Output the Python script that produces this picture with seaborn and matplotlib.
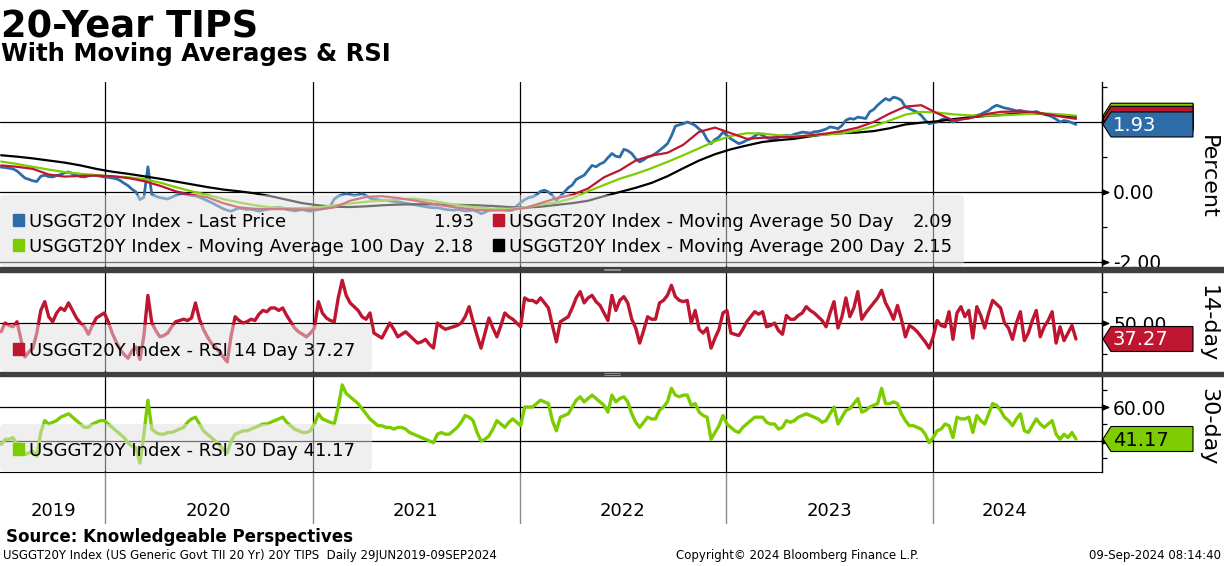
import numpy as np
import pandas as pd
import matplotlib
matplotlib.use("Agg")
import matplotlib.pyplot as plt
import matplotlib.dates as mdates
from matplotlib.ticker import FuncFormatter
from matplotlib.patches import Polygon, Rectangle, FancyBboxPatch
import seaborn as sns

# weekly closes, 01JUL2019 - 09SEP2024
dates = pd.date_range("2019-07-01", periods=272, freq="7D")
last_price = [
    0.71, 0.70, 0.68, 0.66, 0.60, 0.50, 0.40, 0.36, 0.32, 0.30,
    0.45, 0.48, 0.44, 0.43, 0.47, 0.50, 0.55, 0.57, 0.52, 0.48,
    0.44, 0.43, 0.46, 0.48, 0.47, 0.45, 0.43, 0.42, 0.40, 0.38,
    0.33, 0.25, 0.18, 0.08, 0.00, -0.22, -0.15, 0.72, -0.08, -0.12,
    -0.16, -0.18, -0.20, -0.15, -0.10, -0.06, -0.05, -0.08, -0.10, -0.11,
    -0.15, -0.20, -0.25, -0.30, -0.36, -0.42, -0.48, -0.52, -0.55, -0.50,
    -0.46, -0.48, -0.50, -0.49, -0.52, -0.55, -0.52, -0.50, -0.47, -0.45,
    -0.44, -0.46, -0.50, -0.52, -0.54, -0.52, -0.50, -0.53, -0.55, -0.52,
    -0.50, -0.48, -0.46, -0.40, -0.20, -0.12, -0.08, -0.05, -0.07, -0.10,
    -0.08, -0.05, -0.10, -0.18, -0.20, -0.22, -0.24, -0.23, -0.25, -0.27,
    -0.28, -0.30, -0.32, -0.34, -0.36, -0.38, -0.40, -0.42, -0.44, -0.45,
    -0.45, -0.47, -0.50, -0.51, -0.52, -0.50, -0.52, -0.54, -0.53, -0.52,
    -0.56, -0.62, -0.58, -0.52, -0.50, -0.48, -0.50, -0.52, -0.53, -0.52,
    -0.40, -0.30, -0.22, -0.16, -0.14, -0.08, 0.02, 0.05, 0.00, -0.10,
    -0.24, -0.12, 0.00, 0.12, 0.20, 0.36, 0.42, 0.48, 0.62, 0.76,
    0.72, 0.80, 0.85, 0.98, 1.10, 1.02, 1.00, 1.22, 1.18, 1.10,
    0.95, 0.86, 0.92, 1.00, 1.03, 1.10, 1.19, 1.28, 1.38, 1.60,
    1.88, 1.92, 1.95, 2.00, 1.96, 1.90, 1.80, 1.71, 1.50, 1.38,
    1.50, 1.57, 1.71, 1.62, 1.52, 1.45, 1.38, 1.42, 1.48, 1.52,
    1.60, 1.67, 1.62, 1.55, 1.52, 1.52, 1.56, 1.60, 1.62, 1.60,
    1.65, 1.68, 1.71, 1.70, 1.68, 1.72, 1.73, 1.76, 1.80, 1.86,
    1.84, 1.81, 1.90, 2.05, 2.10, 2.08, 2.14, 2.12, 2.10, 2.29,
    2.36, 2.48, 2.58, 2.67, 2.62, 2.71, 2.68, 2.62, 2.43, 2.38,
    2.33, 2.28, 2.19, 2.05, 1.95, 1.98, 2.00, 2.06, 2.10, 2.05,
    2.00, 2.04, 2.08, 2.10, 2.12, 2.15, 2.19, 2.22, 2.28, 2.33,
    2.42, 2.48, 2.44, 2.40, 2.38, 2.35, 2.32, 2.33, 2.30, 2.28,
    2.27, 2.30, 2.25, 2.22, 2.19, 2.15, 2.08, 2.00, 2.04, 2.02,
    1.98, 1.93]

# moving averages read every 4 weeks
ma_dates = pd.date_range("2019-07-01", periods=68, freq="28D").append(pd.DatetimeIndex(["2024-09-09"]))
ma_50 = [
    0.76, 0.72, 0.66, 0.50, 0.44, 0.46, 0.47, 0.45, 0.40, 0.31,
    0.18, 0.02, -0.08, -0.15, -0.32, -0.44, -0.48, -0.49, -0.49, -0.50,
    -0.50, -0.44, -0.25, -0.14, -0.12, -0.17, -0.24, -0.32, -0.40, -0.46,
    -0.51, -0.53, -0.52, -0.46, -0.32, -0.18, -0.08, 0.10, 0.42, 0.62,
    0.90, 1.04, 1.12, 1.35, 1.72, 1.84, 1.68, 1.52, 1.55, 1.57,
    1.57, 1.62, 1.67, 1.74, 1.84, 2.00, 2.24, 2.44, 2.48, 2.25,
    2.05, 2.10, 2.22, 2.29, 2.30, 2.29, 2.22, 2.14, 2.09]
ma_100 = [
    0.87, 0.80, 0.72, 0.64, 0.57, 0.52, 0.48, 0.45, 0.42, 0.37,
    0.27, 0.14, 0.02, -0.08, -0.20, -0.30, -0.38, -0.44, -0.46, -0.46,
    -0.44, -0.38, -0.33, -0.28, -0.24, -0.21, -0.19, -0.24, -0.32, -0.39,
    -0.44, -0.48, -0.48, -0.45, -0.36, -0.30, -0.18, 0.02, 0.20, 0.38,
    0.52, 0.68, 0.86, 1.05, 1.25, 1.45, 1.60, 1.68, 1.67, 1.62,
    1.60, 1.61, 1.64, 1.68, 1.76, 1.88, 2.04, 2.21, 2.29, 2.27,
    2.22, 2.19, 2.18, 2.19, 2.21, 2.24, 2.24, 2.21, 2.18]
ma_200 = [
    1.05, 1.01, 0.96, 0.90, 0.84, 0.76, 0.66, 0.58, 0.52, 0.45,
    0.38, 0.30, 0.22, 0.14, 0.07, 0.02, -0.04, -0.12, -0.22, -0.32,
    -0.38, -0.42, -0.43, -0.41, -0.38, -0.36, -0.35, -0.35, -0.36, -0.37,
    -0.38, -0.40, -0.43, -0.45, -0.42, -0.37, -0.32, -0.25, -0.12, 0.00,
    0.12, 0.26, 0.45, 0.68, 0.90, 1.08, 1.22, 1.33, 1.43, 1.48,
    1.52, 1.59, 1.65, 1.68, 1.70, 1.74, 1.82, 1.93, 1.98, 2.02,
    2.08, 2.13, 2.17, 2.20, 2.24, 2.25, 2.22, 2.17, 2.15]

rsi_14 = [
    43, 50, 48, 47, 51, 37, 23, 27, 30, 42,
    60, 67, 55, 51, 58, 62, 60, 66, 60, 54,
    50, 47, 41, 48, 54, 56, 58, 51, 42, 35,
    29, 25, 22, 28, 31, 21, 40, 72, 50, 44,
    39, 40, 42, 47, 51, 52, 53, 52, 54, 66,
    53, 45, 39, 34, 31, 27, 23, 19, 40, 55,
    52, 50, 51, 53, 52, 57, 60, 59, 62, 62,
    60, 62, 56, 51, 46, 43, 41, 39, 42, 46,
    67, 58, 54, 52, 51, 70, 84, 72, 66, 63,
    60, 55, 53, 58, 42, 40, 38, 44, 50, 45,
    39, 41, 43, 40, 37, 34, 35, 37, 33, 30,
    50, 47, 45, 46, 47, 48, 50, 55, 63, 51,
    40, 30, 42, 54, 46, 39, 48, 58, 55, 53,
    50, 47, 70, 68, 68, 66, 70, 66, 62, 48,
    35, 51, 53, 55, 62, 70, 75, 66, 70, 72,
    67, 64, 58, 52, 72, 60, 68, 71, 66, 53,
    46, 34, 44, 55, 53, 53, 66, 68, 72, 80,
    71, 68, 67, 68, 50, 60, 45, 42, 46, 30,
    38, 45, 58, 60, 42, 41, 40, 45, 51, 55,
    59, 57, 59, 47, 48, 50, 44, 41, 56, 53,
    53, 56, 58, 63, 60, 58, 55, 52, 47, 58,
    67, 46, 55, 70, 55, 62, 75, 53, 58, 62,
    66, 70, 76, 66, 60, 53, 64, 53, 39, 48,
    46, 43, 39, 35, 30, 39, 52, 48, 47, 59,
    37, 58, 63, 55, 60, 38, 63, 56, 46, 58,
    68, 65, 62, 50, 46, 37, 50, 59, 36, 42,
    52, 60, 39, 47, 52, 59, 34, 47, 36, 42,
    48, 37.27]

rsi_30 = [
    38, 41, 41, 42, 38, 36, 32, 33, 34, 31,
    45, 52, 50, 51, 52, 54, 55, 56, 54, 52,
    50, 48, 48, 50, 51, 52, 52, 50, 48, 46,
    44, 42, 39, 37, 36, 27, 44, 64, 47, 45,
    44, 44, 45, 45, 46, 47, 48, 51, 53, 54,
    50, 46, 44, 42, 40, 38, 35, 33, 40, 44,
    45, 46, 46, 47, 48, 49, 50, 50, 51, 52,
    53, 54, 51, 49, 47, 46, 45, 45, 46, 50,
    56, 53, 52, 51, 50, 60, 73, 68, 66, 64,
    62, 59, 56, 53, 51, 49, 49, 48, 48, 47,
    48, 48, 47, 45, 44, 43, 42, 41, 40, 39,
    44, 45, 44, 44, 46, 48, 51, 55, 54, 52,
    45, 40, 41, 43, 47, 52, 50, 48, 51, 53,
    51, 49, 60, 60, 60, 62, 64, 63, 62, 52,
    46, 54, 55, 56, 60, 64, 66, 63, 65, 67,
    65, 63, 61, 57, 67, 63, 65, 66, 63, 56,
    51, 48, 51, 54, 53, 53, 58, 60, 63, 71,
    67, 66, 67, 67, 61, 62, 57, 55, 54, 41,
    45, 49, 55, 50, 48, 46, 45, 48, 50, 52,
    54, 54, 54, 51, 50, 50, 47, 48, 52, 51,
    52, 54, 55, 56, 55, 54, 53, 51, 52, 56,
    60, 50, 54, 58, 59, 62, 65, 57, 58, 60,
    61, 62, 71, 62, 62, 63, 62, 56, 52, 49,
    49, 48, 47, 44, 39, 42, 46, 47, 50, 49,
    42, 54, 53, 53, 54, 45, 55, 52, 50, 56,
    62, 61, 58, 54, 52, 49, 53, 56, 46, 45,
    49, 53, 50, 48, 50, 52, 44, 41, 44, 42,
    45, 41.17]

years = [2019, 2020, 2021, 2022, 2023, 2024]

BLUE = "#2e6ca8"
RED = "#be1630"
GREEN = "#7dcc00"

sns.set_style("white")
plt.rcParams["font.family"] = ["DejaVu Sans"]
plt.rcParams["axes.unicode_minus"] = False
plt.rcParams["text.color"] = "black"
plt.rcParams["ytick.color"] = "black"
plt.rcParams["xtick.color"] = "black"

W, H = 1224, 566
fig = plt.figure(figsize=(W / 100, H / 100), dpi=100)


def px_axes(top, bottom, left=0, right=1102):
    return fig.add_axes([left / W, 1 - bottom / H, (right - left) / W, (bottom - top) / H])


ax1 = px_axes(82, 267)
ax2 = px_axes(272, 372)
ax3 = px_axes(376, 472)

sns.lineplot(x=dates, y=last_price, ax=ax1, color=BLUE, lw=2.0, zorder=3)
sns.lineplot(x=ma_dates, y=ma_200, ax=ax1, color="black", lw=1.6, zorder=4)
sns.lineplot(x=ma_dates, y=ma_100, ax=ax1, color=GREEN, lw=1.6, zorder=4)
sns.lineplot(x=ma_dates, y=ma_50, ax=ax1, color=RED, lw=1.6, zorder=4)
sns.lineplot(x=dates, y=rsi_14, ax=ax2, color=RED, lw=2.4, zorder=3)
sns.lineplot(x=dates, y=rsi_30, ax=ax3, color=GREEN, lw=2.4, zorder=3)

x_start = pd.Timestamp("2019-06-29")
x_end = pd.Timestamp("2024-10-25")
year_starts = [pd.Timestamp(f"{y}-01-01") for y in years[1:]]
arrow = [(0, -0.4), (1, 0), (0, 0.4), (0, -0.4)]

# (axis, y limits, gridline ticks, labelled ticks, minor ticks)
panels = [
    (ax1, (-2.143, 3.143), [-2, 0, 2], [-2, 0, 2], [-1, 1, 3]),
    (ax2, (11.0, 90.6), [50], [50], [25, 75]),
    (ax3, (21.76, 78.24), [40, 60], [60], [30, 50, 70]),
]
for ax, lims, majors, shown, minors in panels:
    ax.set_xlim(x_start, x_end)
    ax.set_ylim(*lims)
    ax.set_xlabel("")
    ax.set_ylabel("")
    ax.yaxis.tick_right()
    ax.set_yticks(majors)
    ax.set_yticks(minors, minor=True)
    ax.yaxis.set_major_formatter(FuncFormatter(lambda v, p, s=shown: f"{v:.2f}" if v in s else ""))
    ax.tick_params(axis="y", which="major", length=0, pad=8, labelsize=13.5)
    ax.tick_params(axis="y", which="minor", length=3.5, width=0.9, direction="out")
    for v in majors:
        ax.axhline(v, color="black", lw=0.9, zorder=1)
    for d in year_starts:
        ax.axvline(d, color="black", lw=0.9, zorder=1)
    ax.plot([1.0] * len(majors), majors, transform=ax.get_yaxis_transform(),
            marker=arrow, ms=9, color="black", ls="none", clip_on=False, zorder=6)
    for s in ["left", "top", "bottom"]:
        ax.spines[s].set_visible(False)
    ax.spines["right"].set_color("black")
    ax.spines["right"].set_linewidth(1.0)
    ax.tick_params(axis="x", which="both", length=0, labelbottom=False)

ax3.spines["bottom"].set_visible(True)
ax3.spines["bottom"].set_color("black")
ax3.xaxis.set_major_locator(mdates.YearLocator())
ax3.xaxis.set_minor_locator(mdates.MonthLocator(bymonth=[1, 4, 7, 10]))
ax3.tick_params(axis="x", which="minor", length=3.5, width=0.9, direction="out")

for d in year_starts:
    ax3.plot([d, d], [0, -0.53], transform=ax3.get_xaxis_transform(),
             color="#8a8a8a", lw=1, clip_on=False)
for y in years:
    a = max(pd.Timestamp(f"{y}-01-01"), dates[0])
    b = min(pd.Timestamp(f"{y}-12-31"), dates[-1])
    ax3.text(a + (b - a) / 2, -0.41, str(y), transform=ax3.get_xaxis_transform(),
             ha="center", va="center", fontsize=13)

# overlay in pixel coordinates for legends, tags and titles
ov = fig.add_axes([0, 0, 1, 1], zorder=10)
ov.set_xlim(0, W)
ov.set_ylim(H, 0)
ov.axis("off")
ov.patch.set_alpha(0)

for top in [267.3, 371.7]:
    ov.add_patch(Rectangle((0, top), W, 4.5, color="#3f3f3f"))
    ov.plot([604, 620], [top + 1.3, top + 1.3], color="#a0a0a0", lw=0.6)
    ov.plot([604, 620], [top + 2.9, top + 2.9], color="#a0a0a0", lw=0.6)


def legend_box(x, y, w, h):
    ov.add_patch(FancyBboxPatch((x, y), w, h, boxstyle="round,pad=0,rounding_size=4",
                                fc="#e0e0e0", ec="none", alpha=0.5))


def legend_entry(x, base, color, label, value=None, value_x=None):
    ov.add_patch(Rectangle((x, base - 13), 11, 11.5, color=color))
    ov.text(x + 16, base, label, fontsize=13, va="baseline", ha="left")
    if value is not None:
        ov.text(value_x, base, value, fontsize=13, va="baseline", ha="right")


legend_box(0, 195, 964, 71)
legend_entry(13, 227, BLUE, "USGGT20Y Index - Last Price", f"{last_price[-1]:.2f}", 474)
legend_entry(493, 227, RED, "USGGT20Y Index - Moving Average 50 Day", f"{ma_50[-1]:.2f}", 953)
legend_entry(13, 252, GREEN, "USGGT20Y Index - Moving Average 100 Day", f"{ma_100[-1]:.2f}", 474)
legend_entry(493, 252, "black", "USGGT20Y Index - Moving Average 200 Day", f"{ma_200[-1]:.2f}", 953)

legend_box(0, 325, 372, 46)
legend_entry(13, 356, RED, f"USGGT20Y Index - RSI 14 Day {rsi_14[-1]:.2f}")
legend_box(0, 424, 372, 47)
legend_entry(13, 456, GREEN, f"USGGT20Y Index - RSI 30 Day {rsi_30[-1]:.2f}")


def value_tag(ax, value, fc, tc=None):
    yc = H - ax.get_yaxis_transform().transform((0, value))[1]
    pts = [(1103, yc), (1111, yc - 12.5), (1193, yc - 12.5), (1193, yc + 12.5), (1111, yc + 12.5)]
    ov.add_patch(Polygon(pts, closed=True, fc=fc, ec="black", lw=0.8))
    if tc is not None:
        ov.text(1113, yc + 1, f"{value:.2f}", color=tc, fontsize=14, va="center", ha="left")


value_tag(ax1, ma_200[-1], "black")
value_tag(ax1, ma_100[-1], GREEN)
value_tag(ax1, ma_50[-1], RED)
value_tag(ax1, last_price[-1], BLUE, "white")
value_tag(ax2, rsi_14[-1], RED, "white")
value_tag(ax3, rsi_30[-1], GREEN, "black")

ov.text(1208, 177, "Percent", rotation=-90, ha="center", va="center", fontsize=16)
ov.text(1208, 324, "14-day", rotation=-90, ha="center", va="center", fontsize=16)
ov.text(1208, 427, "30-day", rotation=-90, ha="center", va="center", fontsize=16)

ov.text(1, 37, "20-Year TIPS", fontsize=26.5, fontweight="bold", va="baseline")
ov.text(1, 61, "With Moving Averages & RSI", fontsize=17.5, fontweight="bold", va="baseline")

ov.text(6, 537, "Source: Knowledgeable Perspectives", fontsize=12, fontweight="bold", va="center")
ov.text(3, 556, "USGGT20Y Index (US Generic Govt TII 20 Yr) 20Y TIPS  Daily 29JUN2019-09SEP2024",
        fontsize=8.5, va="center")
ov.text(797, 556, "Copyright\u00a9 2024 Bloomberg Finance L.P.", fontsize=8.5, va="center", ha="center")
ov.text(1221, 556, "09-Sep-2024 08:14:40", fontsize=8.5, va="center", ha="right")

fig.savefig("out.png", dpi=100)
